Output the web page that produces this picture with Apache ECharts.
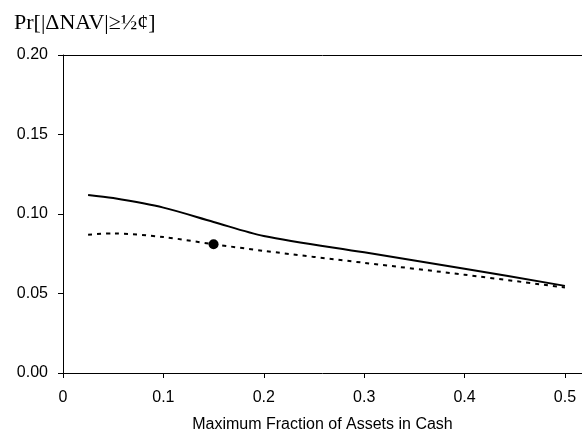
<!DOCTYPE html>
<html>
<head>
<meta charset="utf-8">
<script src="https://cdn.jsdelivr.net/npm/echarts@6/dist/echarts.min.js"></script>
<style>
  html, body { margin: 0; padding: 0; background: #fff; }
  #chart { width: 582px; height: 436px; }
</style>
</head>
<body>
<div id="chart"></div>
<script>
// x positions (max fraction of assets in cash)
const cashFrac = [0.025, 0.05, 0.1, 0.15, 0.2, 0.3, 0.4, 0.5]
// solid line
const probSolid = [0.112, 0.110, 0.104, 0.095, 0.0862, 0.0759, 0.0656, 0.0548]
// dotted line
const probDotted = [0.087, 0.0878, 0.0855, 0.081, 0.0768, 0.0693, 0.0618, 0.0538]
// highlighted point on the dotted line
const markPoint = [0.15, 0.081]

const xMax = 0.517
const axisFont = { fontFamily: 'Liberation Sans, Arial, sans-serif', fontSize: 16, color: '#000' }

const chart = echarts.init(document.getElementById('chart'))

const option = {
  animation: false,
  title: {
    text: 'Pr[|ΔNAV|≥½¢]',
    left: 9,
    top: 7,
    textStyle: { fontFamily: 'Liberation Serif, Times New Roman, serif', fontSize: 22, fontWeight: 'normal', color: '#000' },
  },
  grid: { left: 63, right: 0, top: 55, bottom: 63, outerBoundsMode: 'none', containLabel: false },
  xAxis: [
    {
      type: 'value',
      min: 0,
      max: xMax,
      interval: 0.1,
      name: 'Maximum Fraction of Assets in Cash',
      nameLocation: 'middle',
      nameGap: 44,
      nameTextStyle: axisFont,
      axisLine: { lineStyle: { color: '#000', width: 1 } },
      axisTick: { show: true, length: 5, inside: false, lineStyle: { color: '#000' } },
      axisLabel: { ...axisFont, margin: 17, showMaxLabel: false, formatter: v => String(+v.toFixed(1)) },
      splitLine: { show: false },
    },
    {
      type: 'value',
      position: 'top',
      min: 0,
      max: xMax,
      axisLine: { show: true, onZero: false, lineStyle: { color: '#000', width: 1 } },
      axisTick: { show: false },
      axisLabel: { show: false },
      splitLine: { show: false },
    },
  ],
  yAxis: {
    type: 'value',
    min: 0,
    max: 0.2,
    interval: 0.05,
    axisLine: { show: true, lineStyle: { color: '#000', width: 1 } },
    axisTick: { show: true, length: 5, lineStyle: { color: '#000' } },
    axisLabel: { ...axisFont, margin: 15, formatter: v => v.toFixed(2) },
    splitLine: { show: false },
  },
  series: [
    {
      type: 'line',
      data: cashFrac.map((x, i) => [x, probSolid[i]]),
      smooth: 0.3,
      showSymbol: false,
      lineStyle: { color: '#000', width: 2 },
    },
    {
      type: 'line',
      data: cashFrac.map((x, i) => [x, probDotted[i]]),
      smooth: 0.3,
      showSymbol: false,
      lineStyle: { color: '#000', width: 2, type: [4, 5] },
    },
    {
      type: 'scatter',
      data: [markPoint],
      symbol: 'circle',
      symbolSize: 10,
      itemStyle: { color: '#000', opacity: 1 },
      z: 5,
    },
  ],
}

chart.setOption(option)
</script>
</body>
</html>
